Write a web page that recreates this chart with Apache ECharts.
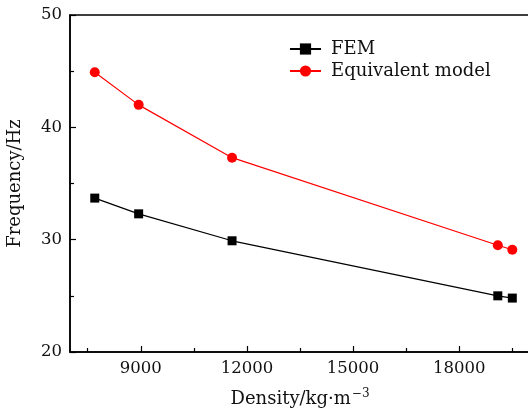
<!DOCTYPE html>
<html><head><meta charset="utf-8">
<script src="https://cdn.jsdelivr.net/npm/echarts@6/dist/echarts.min.js"></script>
<style>html,body{margin:0;padding:0;background:#fff}#c{width:528px;height:412px}</style>
</head><body><div id="c"></div>
<script>
const density = [7700, 8940, 11580, 19090, 19500];
const femFreq = [33.7, 32.3, 29.9, 25.0, 24.8];
const eqFreq = [44.9, 42.0, 37.3, 29.5, 29.1];
const xMajorTicks = [9000, 12000, 15000, 18000];
const xMinorTicks = [7500, 10500, 13500, 16500, 19500];
const yTicks = [20, 30, 40, 50];

const FONT = 'DejaVu Serif';
const chart = echarts.init(document.getElementById('c'));
const pair = (xs, ys) => xs.map((x, i) => [x, ys[i]]);
chart.setOption({
  animation: false,
  backgroundColor: '#fff',
  grid: {left: 70, top: 15, right: -2, bottom: 60, show: true, borderColor: '#000', borderWidth: 1.5, containLabel: false, outerBoundsMode: 'none'},
  legend: {
    orient: 'vertical', left: 289, top: 40, padding: 0, itemWidth: 31, itemHeight: 14, itemGap: 4,
    textStyle: {fontFamily: FONT, fontSize: 18, color: '#111', padding: [0, 0, 0, 5]},
    data: ['FEM', 'Equivalent model']
  },
  xAxis: [{
    type: 'value', min: 7000, max: 20000,
    name: 'Density/kg·m{sup|−3}', nameLocation: 'middle', nameGap: 36,
    nameTextStyle: {fontFamily: FONT, fontSize: 18, color: '#111', rich: {sup: {fontFamily: FONT, fontSize: 12, color: '#111', padding: [0, 0, 10, 1]}}},
    axisLine: {show: true, lineStyle: {color: '#000', width: 1.5}},
    axisTick: {show: true, inside: true, length: 6, lineStyle: {color: '#000', width: 1.2}, customValues: xMajorTicks},
    axisLabel: {fontFamily: FONT, fontSize: 16.5, color: '#111', margin: 8, customValues: xMajorTicks, formatter: v => String(v)},
    splitLine: {show: false}
  }, {
    type: 'value', min: 7000, max: 20000, position: 'bottom',
    axisLine: {show: false},
    axisTick: {show: true, inside: true, length: 4, lineStyle: {color: '#000', width: 1.2}, customValues: xMinorTicks},
    axisLabel: {show: false},
    splitLine: {show: false}
  }],
  yAxis: {
    type: 'value', min: 20, max: 50, interval: 10,
    name: 'Frequency/Hz', nameLocation: 'middle', nameGap: 46,
    nameTextStyle: {fontFamily: FONT, fontSize: 18, color: '#111'},
    axisLine: {show: true, lineStyle: {color: '#000', width: 1.5}},
    axisTick: {show: true, inside: true, length: 6, lineStyle: {color: '#000', width: 1.2}},
    minorTick: {show: true, splitNumber: 2, length: 4, lineStyle: {color: '#000', width: 1.2}},
    axisLabel: {fontFamily: FONT, fontSize: 16.5, color: '#111', margin: 8, customValues: yTicks},
    splitLine: {show: false}
  },
  series: [{
    name: 'FEM', type: 'line', data: pair(density, femFreq),
    symbol: 'rect', symbolSize: 9, color: '#000',
    lineStyle: {color: '#000', width: 1.2}, itemStyle: {color: '#000'}
  }, {
    name: 'Equivalent model', type: 'line', data: pair(density, eqFreq),
    symbol: 'circle', symbolSize: 10, color: '#f00',
    lineStyle: {color: '#f00', width: 1.2}, itemStyle: {color: '#f00'}
  }]
});
</script></body></html>
